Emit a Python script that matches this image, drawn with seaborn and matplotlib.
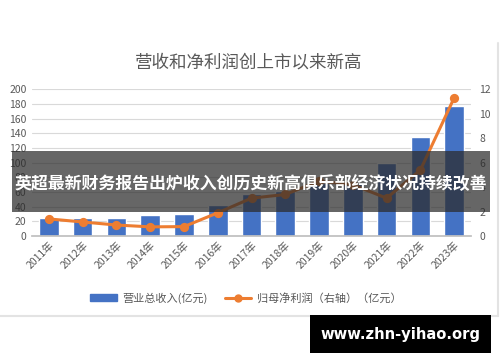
import matplotlib
matplotlib.use("Agg")
import matplotlib.pyplot as plt
import seaborn as sns
import pandas as pd
from matplotlib.patches import Rectangle
from matplotlib.lines import Line2D

years = ["2011年", "2012年", "2013年", "2014年", "2015年", "2016年", "2017年",
         "2018年", "2019年", "2020年", "2021年", "2022年", "2023年"]
revenue = [24, 24, 25, 29, 30, 42, 57, 62, 72, 73, 100, 135, 178]
profit = [1.4, 1.15, 0.9, 0.75, 0.77, 1.9, 3.1, 3.4, 4.5, 4.2, 3.1, 5.4, 11.3]
left_ticks = [0, 20, 40, 60, 80, 100, 120, 140, 160, 180, 200]
right_ticks = [0, 2, 4, 6, 8, 10, 12]

title = "营收和净利润创上市以来新高"
bar_label = "营业总收入(亿元)"
line_label = "归母净利润（右轴）（亿元）"
overlay_text = "英超最新财务报告出炉收入创历史新高俱乐部经济状况持续改善"
watermark = "www.zhn-yihao.org"

df = pd.DataFrame({"year": years, "revenue": revenue, "profit": profit})

sns.set_theme(style="white")
plt.rcParams['font.family'] = ['Noto Sans CJK SC', 'DejaVu Sans']

BLUE = "#4472C4"
ORANGE = "#ED7D31"
GRAY = "#595959"

fig = plt.figure(figsize=(5.0, 3.62), dpi=100)
ax = fig.add_axes([0.064, 0.348, 0.878, 0.405])

sns.barplot(data=df, x="year", y="revenue", color=BLUE, width=0.58,
            saturation=1, ax=ax, zorder=2)
ax.set_ylim(0, 200)
ax.set_yticks(left_ticks)
ax.set_xlim(-0.5, len(years) - 0.5)
ax.yaxis.grid(True, color="#d9d9d9", linewidth=0.8, zorder=0)
ax.set_axisbelow(True)
for s in ["top", "right", "left"]:
    ax.spines[s].set_visible(False)
ax.spines["bottom"].set_color("#bfbfbf")
ax.set_xlabel("")
ax.set_ylabel("")
ax.tick_params(axis="y", colors=GRAY, labelsize=7.5, length=0, pad=4)
ax.set_xticks(range(len(years)))
ax.set_xticklabels(years, rotation=45, ha="right", rotation_mode="anchor",
                   fontsize=7.5, color=GRAY)
ax.tick_params(axis="x", length=0, pad=3)
# category boundary ticks
ax.set_xticks([i - 0.5 for i in range(len(years) + 1)], minor=True)
ax.tick_params(axis="x", which="minor", length=4, color="#bfbfbf", width=0.8)

ax2 = ax.twinx()
sns.pointplot(data=df, x="year", y="profit", color=ORANGE, markers="o",
              linewidth=2.2, markersize=5, ax=ax2)
ax2.set_ylim(0, 12)
ax2.set_yticks(right_ticks)
ax2.set_xlim(-0.5, len(years) - 0.5)
for s in ["top", "right", "left", "bottom"]:
    ax2.spines[s].set_visible(False)
ax2.set_xlabel("")
ax2.set_ylabel("")
ax2.tick_params(axis="y", colors=GRAY, labelsize=7.5, length=0, pad=6)
ax2.grid(False)

fig.text(0.498, 0.828, title, ha="center", va="center", fontsize=12.6,
         color=GRAY)

handles = [Rectangle((0, 0), 1, 1, color=BLUE),
           Line2D([0], [0], color=ORANGE, lw=2.2, marker="o", markersize=5)]
fig.legend(handles, [bar_label, line_label], loc="center",
           bbox_to_anchor=(0.492, 0.177), ncol=2, frameon=False,
           fontsize=8, labelcolor=GRAY, handlelength=2.4, columnspacing=1.5,
           handletextpad=0.5)

# chart frame (right and bottom edges only)
fig.add_artist(Line2D([498 / 500, 498 / 500], [1 - 43 / 362, 1 - 316 / 362],
                      transform=fig.transFigure, color="#e3e3e3", lw=1.5))
fig.add_artist(Line2D([0, 498 / 500], [1 - 316 / 362, 1 - 316 / 362],
                      transform=fig.transFigure, color="#e3e3e3", lw=1.5))

# overlay band
fig.patches.append(Rectangle((12 / 500, 1 - 212 / 362), 478 / 500, 61 / 362,
                             transform=fig.transFigure, facecolor="#2b2b2b",
                             alpha=0.72, edgecolor="none", zorder=10))
fig.text(251 / 500, 1 - 185 / 362, overlay_text, ha="center", va="center",
         fontsize=12.2, color="white", fontweight="bold", zorder=11)

# watermark
fig.patches.append(Rectangle((310 / 500, 1 - 353 / 362), 181 / 500, 38 / 362,
                             transform=fig.transFigure, facecolor="black",
                             edgecolor="none", zorder=10))
fig.text(400 / 500, 1 - 334 / 362, watermark, ha="center", va="center",
         fontsize=10.6, color="white", fontweight="bold", zorder=11,
         family=["DejaVu Sans"])

fig.savefig("out.png", dpi=100)
